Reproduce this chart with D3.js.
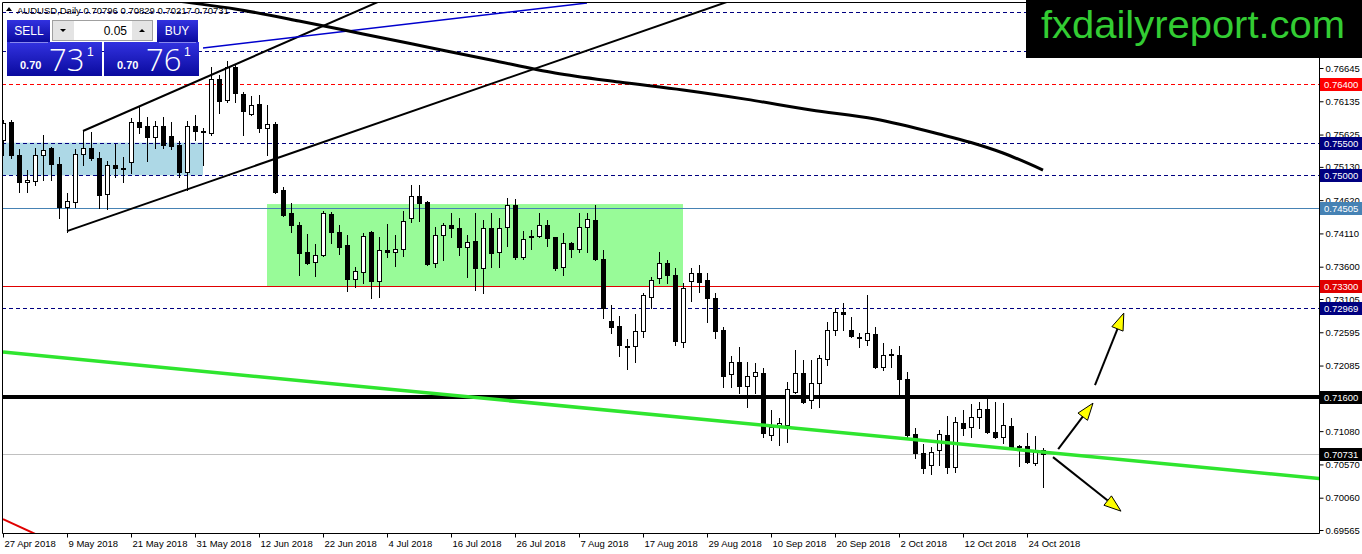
<!DOCTYPE html>
<html>
<head>
<meta charset="utf-8">
<script src="https://cdn.jsdelivr.net/npm/d3@7"></script>
<style>
  body { margin: 0; background: #fff; }
  svg { display: block; font-family: "Liberation Sans", Arial, sans-serif; }
</style>
</head>
<body>
<svg id="chart" width="1362" height="554"></svg>
<script>
// AUDUSD daily candles, 27 Apr 2018 .. 26 Oct 2018 (bar index 0..130)
const opens = [0.75541,0.75817,0.75311,0.74897,0.74913,0.75311,0.75419,0.75173,0.74514,0.74591,
  0.75327,0.75419,0.75265,0.74713,0.75158,0.75112,0.75204,0.75817,0.75756,0.75587,
  0.75756,0.75603,0.75465,0.75051,0.75756,0.75664,0.75649,0.76476,0.76154,0.76660,
  0.76246,0.75940,0.76093,0.75725,0.75787,0.74775,0.74422,0.74238,0.73824,0.73671,
  0.73778,0.74407,0.74131,0.73932,0.73410,0.73518,0.74131,0.73380,0.73855,0.73824,
  0.73870,0.74346,0.74683,0.74591,0.73656,0.74085,0.74238,0.74192,0.73901,0.73993,
  0.73579,0.74192,0.73824,0.74208,0.74545,0.73748,0.74070,0.74070,0.74238,0.74054,
  0.73594,0.73962,0.73870,0.74208,0.74315,0.73717,0.72767,0.72690,0.72383,0.72383,
  0.72613,0.73134,0.73426,0.73656,0.73472,0.72445,0.73380,0.73502,0.73395,0.73119,
  0.72629,0.71954,0.72138,0.71770,0.71923,0.71969,0.71019,0.71142,0.71172,0.71678,
  0.71969,0.71555,0.71816,0.72184,0.72629,0.72905,0.72629,0.72521,0.72475,0.72567,
  0.72061,0.72261,0.72245,0.71877,0.71034,0.70743,0.70559,0.70789,0.71019,0.70528,
  0.71203,0.71142,0.71295,0.71418,0.71065,0.70988,0.71157,0.70835,0.70850,0.70590,
  0.70796];
const highs = [0.75848,0.75848,0.75403,0.75081,0.75419,0.75618,0.75434,0.75281,0.74729,0.75403,
  0.75679,0.75664,0.75357,0.75219,0.75480,0.75281,0.75879,0.76047,0.75894,0.75833,
  0.75894,0.75817,0.75526,0.75833,0.75925,0.75725,0.76660,0.76538,0.76752,0.76706,
  0.76277,0.76216,0.76231,0.76078,0.75817,0.74821,0.74575,0.74284,0.74100,0.73947,
  0.74453,0.74437,0.74238,0.74085,0.73594,0.74116,0.74140,0.74054,0.74254,0.74085,
  0.74453,0.74851,0.74851,0.74600,0.74208,0.74269,0.74422,0.74346,0.74085,0.74422,
  0.74315,0.74422,0.74346,0.74652,0.74637,0.74146,0.74162,0.74422,0.74315,0.74060,
  0.74116,0.73978,0.74422,0.74422,0.74545,0.73855,0.73012,0.72843,0.72491,0.72874,
  0.73196,0.73441,0.73824,0.73702,0.73579,0.73349,0.73579,0.73625,0.73502,0.73196,
  0.72675,0.72230,0.72368,0.72138,0.72123,0.72046,0.71402,0.71280,0.71831,0.72322,
  0.72169,0.72169,0.72245,0.72751,0.72966,0.73042,0.72828,0.72583,0.73165,0.72675,
  0.72429,0.72337,0.72383,0.71985,0.71126,0.70881,0.70835,0.71096,0.71310,0.71295,
  0.71402,0.71494,0.71525,0.71586,0.71525,0.71509,0.71280,0.70866,0.71050,0.71004,
  0.70829];
const lows = [0.75311,0.75265,0.74744,0.74744,0.74851,0.74928,0.74928,0.74346,0.74131,0.74514,
  0.75158,0.75235,0.74499,0.74484,0.74974,0.74897,0.75035,0.75649,0.75219,0.75419,
  0.75419,0.75403,0.74974,0.74775,0.75541,0.75158,0.75618,0.75955,0.76124,0.76124,
  0.75618,0.75925,0.75664,0.75311,0.74729,0.74376,0.74131,0.73472,0.73640,0.73456,
  0.73763,0.73962,0.73794,0.73226,0.73288,0.73349,0.73119,0.73134,0.73748,0.73610,
  0.73763,0.74284,0.74300,0.73630,0.73594,0.73702,0.74054,0.73778,0.73441,0.73242,
  0.73196,0.73594,0.73594,0.73916,0.73717,0.73717,0.73870,0.74054,0.73916,0.73548,
  0.73472,0.73748,0.73824,0.73824,0.73702,0.72813,0.72583,0.72230,0.72031,0.72138,
  0.72521,0.72966,0.73349,0.73349,0.72399,0.72368,0.73073,0.73211,0.72751,0.72506,
  0.71755,0.71755,0.71663,0.71448,0.71663,0.70988,0.70942,0.70866,0.70912,0.71663,
  0.71509,0.71433,0.71448,0.72092,0.72552,0.72629,0.72521,0.72368,0.72399,0.72050,
  0.72015,0.72061,0.71601,0.70988,0.70666,0.70436,0.70421,0.70559,0.70436,0.70452,
  0.71019,0.70988,0.71126,0.71050,0.70973,0.70896,0.70820,0.70544,0.70590,0.70559,
  0.70217];
const closes = [0.75802,0.75311,0.74897,0.74928,0.75311,0.75388,0.75173,0.74514,0.74606,0.75327,
  0.75419,0.75265,0.74698,0.75158,0.75112,0.75120,0.75817,0.75741,0.75587,0.75756,
  0.75465,0.75449,0.75051,0.75756,0.75679,0.75679,0.76476,0.76139,0.76660,0.76262,
  0.75986,0.76078,0.75725,0.75787,0.74744,0.74392,0.74238,0.73809,0.73656,0.73778,
  0.74422,0.74131,0.73901,0.73410,0.73533,0.74070,0.73380,0.73855,0.73824,0.73870,
  0.74300,0.74683,0.74575,0.73640,0.74085,0.74238,0.74192,0.73901,0.73978,0.73579,
  0.74192,0.73809,0.74192,0.74545,0.73748,0.74024,0.74075,0.74238,0.74039,0.73579,
  0.73962,0.73870,0.74208,0.74330,0.73717,0.72966,0.72675,0.72399,0.72391,0.72613,
  0.73165,0.73395,0.73656,0.73472,0.72460,0.73272,0.73502,0.73364,0.73119,0.72613,
  0.71923,0.72138,0.71770,0.71923,0.71985,0.71050,0.71142,0.71203,0.71724,0.71969,
  0.71525,0.71816,0.72199,0.72629,0.72905,0.72882,0.72537,0.72506,0.72583,0.72061,
  0.72245,0.72245,0.71877,0.71019,0.70743,0.70513,0.70758,0.71034,0.70528,0.71218,
  0.71126,0.71295,0.71418,0.71065,0.70988,0.71172,0.70835,0.70850,0.70605,0.70758,
  0.70731];

// bottom axis labels (bar index of each label)
const dateTickIndex = [0, 8, 16, 24, 32, 40, 48, 56, 64, 72, 80, 88, 96, 104, 112, 120, 128];
const dateTickLabels = ["27 Apr 2018", "9 May 2018", "21 May 2018", "31 May 2018", "12 Jun 2018",
  "22 Jun 2018", "4 Jul 2018", "16 Jul 2018", "26 Jul 2018", "7 Aug 2018", "17 Aug 2018",
  "29 Aug 2018", "10 Sep 2018", "20 Sep 2018", "2 Oct 2018", "12 Oct 2018", "24 Oct 2018"];

// right axis price labels
const priceTicks = [0.76645, 0.76135, 0.75625, 0.75130, 0.74620, 0.74110, 0.73600, 0.73105,
  0.72595, 0.72085, 0.71580, 0.71080, 0.70570, 0.70060, 0.69565];

// long moving average (bar index, value)
const maIndex = [15, 21, 29, 37, 45, 53, 61, 69, 77, 85, 93, 101, 109, 117, 121, 125, 130];
const maValues = [0.77810, 0.77687, 0.77550, 0.77366, 0.77166, 0.76967, 0.76768, 0.76568,
  0.76430, 0.76308, 0.76164, 0.76001, 0.75863, 0.75633, 0.75503, 0.75342, 0.75081];

// horizontal levels
const levelPrices = [0.7750, 0.7690, 0.7640, 0.7550, 0.7500, 0.74505, 0.7330, 0.72969, 0.7160, 0.70731];
const levelColors = ["#000080", "#000080", "#ff0000", "#000080", "#000080", "#4682b4", "#e00000", "#000080", "#000000", "#c0c0c0"];
const levelDashed = [true, true, true, true, true, false, false, true, false, false];
const levelWidths = [1, 1, 1, 1, 1, 1, 1, 1, 4, 1];
const levelTagged = [false, false, true, true, true, true, true, true, true, true];

// zones
const zoneFrom = [-1, 33];
const zoneTo = [25, 85];
const zoneTop = [0.7550, 0.7456];
const zoneBottom = [0.7500, 0.7330];
const zoneColors = ["#add8e6", "#98fb98"];

// trend lines [index, price] pairs
const trendStart = [[10, 0.75679], [8, 0.74146], [25, 0.76952], [0, 0.72291], [0, 0.69731]];
const trendEnd = [[50, 0.77825], [92, 0.77721], [73, 0.77641], [170, 0.70289], [6, 0.69394]];
const trendColors = ["#000000", "#000000", "#0000cd", "#2fe52f", "#e00000"];
const trendWidths = [2, 2, 1.6, 3.5, 2];

// arrows
const arrowStart = [[131.9, 0.70804], [136.5, 0.71785], [131.25, 0.70682]];
const arrowEnd = [[136.25, 0.71509], [140.1, 0.72889], [139.75, 0.69854]];

const W = 1362, H = 554;
const plotL = 2, plotT = 2, plotR = 1319, plotB = 533;

const svg = d3.select("#chart");
svg.append("rect").attr("width", W).attr("height", H).attr("fill", "#fff");

const x = d3.scaleLinear().domain([0, 130]).range([3, 1043]);
const y = d3.scaleLinear().domain([0.69565, 0.76645]).range([530, 68]);

svg.append("defs").append("clipPath").attr("id", "plotclip")
  .append("rect").attr("x", plotL).attr("y", plotT)
  .attr("width", plotR - plotL).attr("height", plotB - plotT);

const plot = svg.append("g").attr("clip-path", "url(#plotclip)");
const px = v => Math.round(v) + 0.5;

// zones
plot.selectAll("rect.zone").data(zoneFrom).join("rect")
  .attr("class", "zone")
  .attr("x", (d, i) => x(zoneFrom[i]))
  .attr("y", (d, i) => y(zoneTop[i]))
  .attr("width", (d, i) => x(zoneTo[i]) - x(zoneFrom[i]))
  .attr("height", (d, i) => y(zoneBottom[i]) - y(zoneTop[i]))
  .attr("fill", (d, i) => zoneColors[i]);

// horizontal levels
plot.selectAll("line.level").data(levelPrices).join("line")
  .attr("class", "level")
  .attr("x1", plotL).attr("x2", plotR)
  .attr("y1", (d, i) => levelWidths[i] > 1 ? Math.round(y(d)) : px(y(d)))
  .attr("y2", (d, i) => levelWidths[i] > 1 ? Math.round(y(d)) : px(y(d)))
  .attr("stroke", (d, i) => levelColors[i])
  .attr("stroke-width", (d, i) => levelWidths[i])
  .attr("stroke-dasharray", (d, i) => levelDashed[i] ? "4,3" : null);

// candles
const idx = d3.range(opens.length);
const candle = plot.selectAll("g.candle").data(idx).join("g").attr("class", "candle");
candle.append("line")
  .attr("x1", i => px(x(i))).attr("x2", i => px(x(i)))
  .attr("y1", i => Math.round(y(highs[i]))).attr("y2", i => Math.round(y(lows[i])) + 1)
  .attr("stroke", "#000").attr("stroke-width", 1);
candle.append("rect")
  .attr("x", i => Math.round(x(i)) - 2 + 0.5)
  .attr("y", i => Math.round(y(Math.max(opens[i], closes[i]))) + 0.5)
  .attr("width", 4)
  .attr("height", i => Math.max(1, Math.round(y(Math.min(opens[i], closes[i]))) - Math.round(y(Math.max(opens[i], closes[i])))))
  .attr("fill", i => closes[i] >= opens[i] ? "#fff" : "#000")
  .attr("stroke", "#000").attr("stroke-width", 1);

// trend lines
plot.selectAll("line.trend").data(trendStart).join("line")
  .attr("class", "trend")
  .attr("x1", d => x(d[0])).attr("y1", d => y(d[1]))
  .attr("x2", (d, i) => x(trendEnd[i][0])).attr("y2", (d, i) => y(trendEnd[i][1]))
  .attr("stroke", (d, i) => trendColors[i])
  .attr("stroke-width", (d, i) => trendWidths[i]);

// moving average
plot.append("path")
  .datum(d3.range(maIndex.length))
  .attr("fill", "none").attr("stroke", "#000").attr("stroke-width", 3)
  .attr("d", d3.line().x(i => x(maIndex[i])).y(i => y(maValues[i])).curve(d3.curveMonotoneX));

// arrows
arrowStart.forEach((s, i) => {
  const e = arrowEnd[i];
  const x1 = x(s[0]), y1 = y(s[1]), x2 = x(e[0]), y2 = y(e[1]);
  const ang = Math.atan2(y2 - y1, x2 - x1);
  const len = 17, half = 6;
  const bx = x2 - len * Math.cos(ang), by = y2 - len * Math.sin(ang);
  plot.append("line").attr("x1", x1).attr("y1", y1).attr("x2", bx).attr("y2", by)
    .attr("stroke", "#000").attr("stroke-width", 2);
  const pts = [[x2, y2],
    [bx + half * Math.sin(ang), by - half * Math.cos(ang)],
    [bx - half * Math.sin(ang), by + half * Math.cos(ang)]];
  plot.append("polygon").attr("points", pts.map(p => p.join(",")).join(" "))
    .attr("fill", "#ffff00").attr("stroke", "#000").attr("stroke-width", 1);
});

// frame
svg.append("path")
  .attr("d", `M${plotL + 0.5},${plotB + 0.5}V${plotT + 0.5}H${plotR + 0.5}V${plotB + 0.5}Z`)
  .attr("fill", "none").attr("stroke", "#000").attr("stroke-width", 1);

// right price axis
const yAxis = svg.append("g").attr("transform", `translate(${plotR + 0.5},0)`)
  .call(d3.axisRight(y).tickValues(priceTicks).tickFormat(d3.format(".5f")).tickSize(4).tickPadding(2));
yAxis.select(".domain").remove();
yAxis.selectAll("text").attr("font-size", 9.5).attr("font-family", "Liberation Sans, Arial, sans-serif").attr("fill", "#000");
yAxis.selectAll("line").attr("stroke", "#000");

// bottom date axis
const xAxis = svg.append("g").attr("transform", `translate(0,${plotB + 0.5})`)
  .call(d3.axisBottom(x).tickValues(dateTickIndex)
    .tickFormat((d, i) => dateTickLabels[i]).tickSize(4).tickPadding(2));
xAxis.select(".domain").remove();
xAxis.selectAll("line").attr("stroke", "#000");
xAxis.selectAll("text").attr("font-size", 9.5).attr("font-family", "Liberation Sans, Arial, sans-serif")
  .attr("fill", "#000").attr("text-anchor", "start").attr("dx", 1).attr("dy", "0.75em");

// price tags on the right axis
const tags = svg.append("g");
levelPrices.forEach((p, i) => {
  if (!levelTagged[i]) return;
  const c = levelColors[i] === "#c0c0c0" ? "#000000" : levelColors[i];
  const yy = Math.round(y(p));
  tags.append("rect").attr("x", plotR + 1).attr("y", yy - 6).attr("width", W - plotR - 1).attr("height", 13)
    .attr("fill", c);
  tags.append("text").attr("x", plotR + 5).attr("y", yy + 4)
    .attr("font-size", 9.5).attr("fill", "#fff").text(d3.format(".5f")(p));
});

// logo box
svg.append("rect").attr("x", 1026).attr("y", 0).attr("width", W - 1026).attr("height", 58).attr("fill", "#000");
svg.append("text").attr("x", 1041).attr("y", 38)
  .attr("font-size", 38).attr("fill", "#33cc33")
  .attr("textLength", 304).attr("lengthAdjust", "spacingAndGlyphs")
  .text("fxdailyreport.com");

// header
svg.append("path").attr("d", "M6,11 L9,7 L12,11 Z").attr("fill", "#000");
svg.append("text").attr("x", 17).attr("y", 14).attr("font-size", 9.5).attr("fill", "#000")
  .text("AUDUSD,Daily  0.70796 0.70829 0.70217 0.70731");

// one-click trading panel
const defs = svg.select("defs");
const grad = defs.append("linearGradient").attr("id", "blueGrad").attr("x1", 0).attr("y1", 0).attr("x2", 0).attr("y2", 1);
grad.append("stop").attr("offset", "0%").attr("stop-color", "#3232e0");
grad.append("stop").attr("offset", "100%").attr("stop-color", "#0a0a9e");
const panel = svg.append("g");
panel.append("rect").attr("x", 7).attr("y", 20).attr("width", 43).attr("height", 22).attr("fill", "url(#blueGrad)");
panel.append("rect").attr("x", 157).attr("y", 20).attr("width", 41).attr("height", 22).attr("fill", "url(#blueGrad)");
panel.append("rect").attr("x", 7).attr("y", 42).attr("width", 95).attr("height", 34).attr("fill", "url(#blueGrad)");
panel.append("rect").attr("x", 104).attr("y", 42).attr("width", 95).attr("height", 34).attr("fill", "url(#blueGrad)");
panel.append("line").attr("x1", 10).attr("x2", 48).attr("y1", 42.5).attr("y2", 42.5).attr("stroke", "#8888ee");
panel.append("line").attr("x1", 159).attr("x2", 196).attr("y1", 42.5).attr("y2", 42.5).attr("stroke", "#8888ee");
panel.append("rect").attr("x", 52.5).attr("y", 20.5).attr("width", 100).attr("height", 20).attr("fill", "#fff").attr("stroke", "#a0a0a0");
panel.append("rect").attr("x", 53).attr("y", 21).attr("width", 21).attr("height", 19).attr("fill", "#e4e4e4");
panel.append("rect").attr("x", 132).attr("y", 21).attr("width", 20).attr("height", 19).attr("fill", "#e4e4e4");
panel.append("path").attr("d", "M60,29 L66,29 L63,32 Z").attr("fill", "#000");
panel.append("path").attr("d", "M139,32 L145,32 L142,29 Z").attr("fill", "#000");
panel.append("text").attr("x", 127).attr("y", 35).attr("text-anchor", "end").attr("font-size", 12).attr("fill", "#000").text("0.05");
panel.append("text").attr("x", 29).attr("y", 35).attr("text-anchor", "middle").attr("font-size", 12).attr("fill", "#fff").text("SELL");
panel.append("text").attr("x", 177).attr("y", 35).attr("text-anchor", "middle").attr("font-size", 12).attr("fill", "#fff").text("BUY");
[[20, "73"], [117, "76"]].forEach(([bx, big]) => {
  panel.append("text").attr("x", bx).attr("y", 69).attr("font-size", 11).attr("font-weight", "bold").attr("fill", "#fff").text("0.70");
  panel.append("text").attr("x", bx + 29).attr("y", 71).attr("font-size", 31)
    .attr("font-family", "Open Sans, Liberation Sans, sans-serif").attr("font-weight", 300).attr("fill", "#fff").text(big);
  panel.append("text").attr("x", bx + 67).attr("y", 56).attr("font-size", 12).attr("fill", "#fff").text("1");
});
</script>
</body>
</html>
